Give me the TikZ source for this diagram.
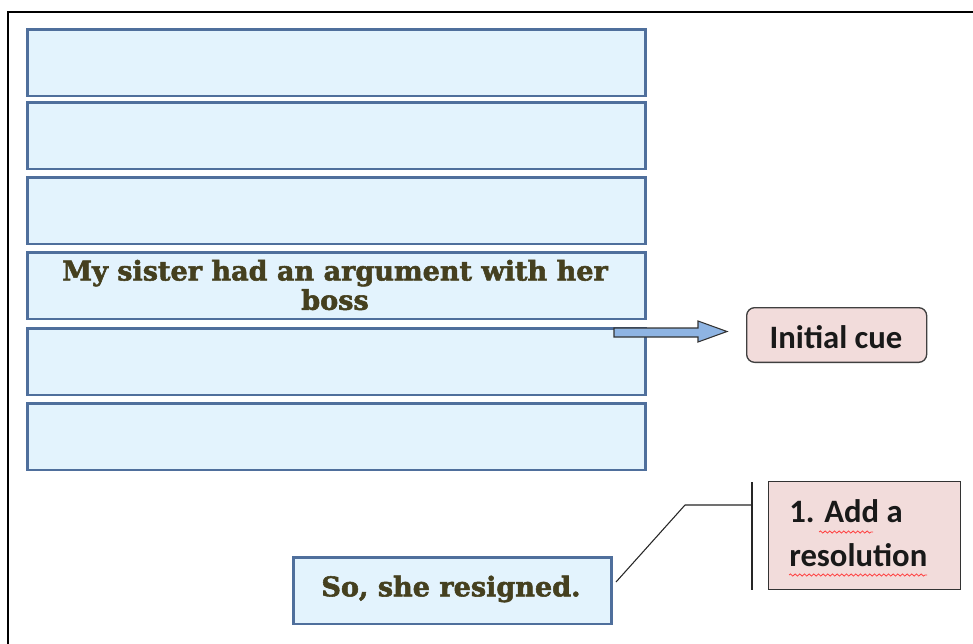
\documentclass[tikz,border=0pt]{standalone}
\usepackage{fontspec}
\setmainfont{DejaVu Serif}
\newfontfamily\heavyserif[FakeBold=2]{DejaVu Serif Bold}
\newfontfamily\labelfont{Carlito}
\usetikzlibrary{decorations.pathmorphing}
\definecolor{rowfill}{HTML}{E3F3FD}
\definecolor{rowdraw}{HTML}{4F6F9C}
\definecolor{olivetext}{HTML}{45401F}
\definecolor{pinkfill}{HTML}{F2DCDB}
\definecolor{arrowfill}{HTML}{8EB4E3}
\tikzset{
  rowbox/.style={draw=rowdraw, line width=2pt, fill=rowfill},
  rowtext/.style={font=\heavyserif\fontsize{20.3}{22}\selectfont, text=olivetext, align=center},
  cuebox/.style={draw=black!75, line width=1pt, fill=pinkfill, rounded corners=6pt},
  notebox/.style={draw=black!80, line width=1.1pt, fill=pinkfill},
  spellmark/.style={draw=red!75, line width=0.6pt, decorate,
    decoration={snake, amplitude=0.8pt, segment length=3.5pt}}
}
\begin{document}
\begin{tikzpicture}[x=0.75pt, y=-0.75pt]
\useasboundingbox (0,0) rectangle (973,643);
\fill[white] (0,0) rectangle (973,643);
% outer frame (open to the right and bottom)
\draw[line width=2pt] (8,645) -- (8,12) -- (975,12);
% stacked event rows
\node[rowbox, minimum width=463.5pt, minimum height=50pt, anchor=north west] (r1) at (26,28) {};
\node[rowbox, minimum width=463.5pt, minimum height=50pt, anchor=north west] (r2) at (26,101) {};
\node[rowbox, minimum width=463.5pt, minimum height=50pt, anchor=north west] (r3) at (26,176) {};
\node[rowbox, minimum width=463.5pt, minimum height=50pt, anchor=north west] (r4) at (26,251) {};
\node[rowbox, minimum width=463.5pt, minimum height=50pt, anchor=north west] (r5) at (26,327) {};
\node[rowbox, minimum width=463.5pt, minimum height=50pt, anchor=north west] (r6) at (26,402) {};
\node[rowtext] (t4) at (335,285) {My sister had an argument with her\\boss};
% resolution box
\node[rowbox, minimum width=238.5pt, minimum height=50pt, anchor=north west] (res) at (292,556) {};
\node[rowtext] (restext) at (451,589) {So, she resigned.};
% block arrow to the cue label
\coordinate (arrowstart) at (614,332.5);
\draw[black!80, line width=0.8pt, fill=arrowfill]
  (arrowstart) ++(0,-4.5) -- (698,328) -- (698,321) -- (727,331.5) -- (698,342)
  -- (698,337) -- (614,337) -- cycle;
\node[cuebox, minimum width=135pt, minimum height=41pt, anchor=north west] (cue) at (746,307) {};
\node[font=\labelfont\fontsize{24.5}{26}\selectfont\bfseries, text=black!90] (cuetext) at (836,337) {Initial cue};
% callout note
\node[notebox, minimum width=144pt, minimum height=81pt, anchor=north west] (note) at (768,481) {};
\node[font=\labelfont\fontsize{24.5}{33}\selectfont\bfseries, align=left, anchor=north west, text=black!90, inner sep=0pt] (notetext) at (789,499) {1. Add a\\resolution};
\draw[spellmark] (819,532) -- (873,532);
\draw[spellmark] (789,575) -- (927,575);
\coordinate (bar top) at (752,482);
\coordinate (bar bottom) at (752,590);
\coordinate (elbow) at (685,505);
\draw[line width=1.2pt, black!85] (bar top) -- (bar bottom);
\draw[line width=0.8pt, black!85] (752,505) -- (elbow) -- (616,582);
\end{tikzpicture}
\end{document}
